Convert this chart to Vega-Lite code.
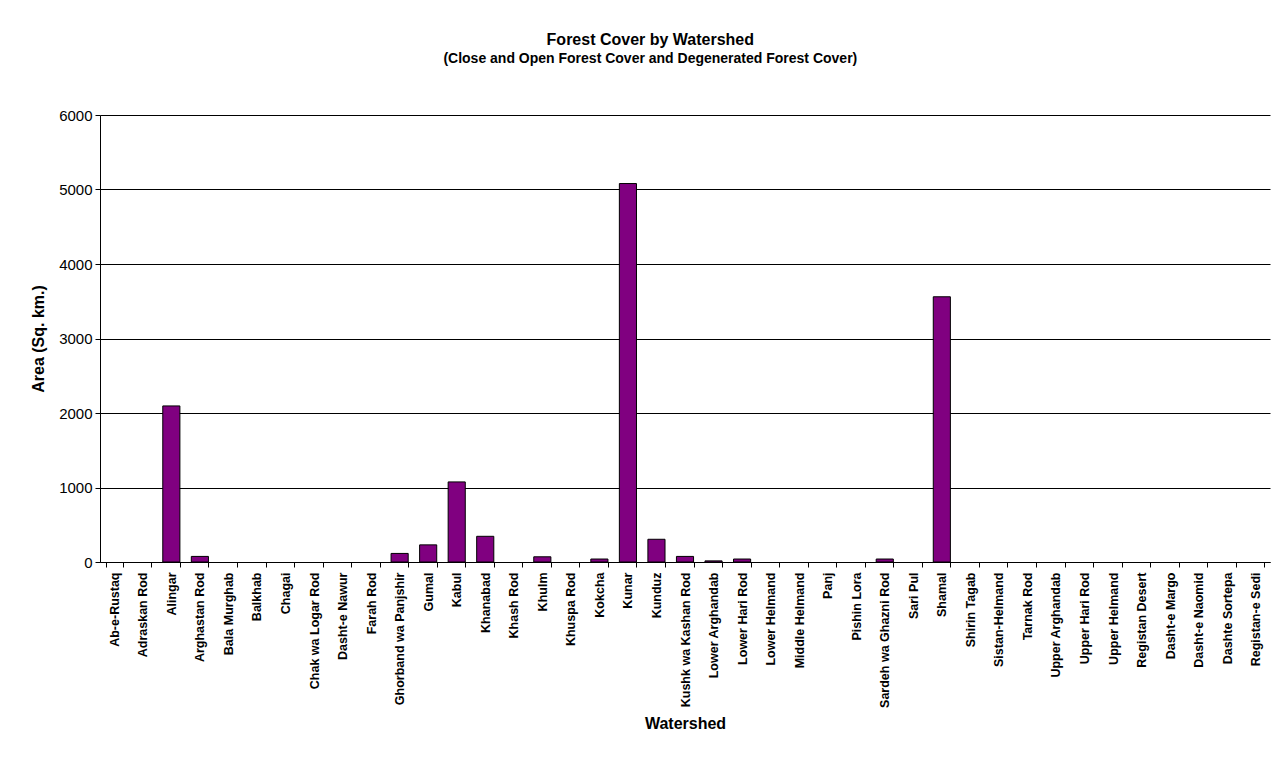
{
  "$schema": "https://vega.github.io/schema/vega-lite/v6.json",
  "autosize": {"type": "none"},
  "width": 1170,
  "height": 447,
  "padding": {"left": 100, "top": 115, "right": 17, "bottom": 199},
  "background": "white",
  "title": {
    "text": "Forest Cover by Watershed",
    "subtitle": "(Close and Open Forest Cover and Degenerated Forest Cover)",
    "anchor": "middle",
    "frame": "bounds",
    "font": "Liberation Sans",
    "fontSize": 16,
    "fontWeight": "bold",
    "color": "black",
    "subtitleFont": "Liberation Sans",
    "subtitleFontSize": 14,
    "subtitleFontWeight": "bold",
    "subtitleColor": "black",
    "subtitlePadding": 4,
    "offset": 42
  },
  "data": {
    "values": [
      {"watershed": "Ab-e-Rustaq", "area": 0},
      {"watershed": "Adraskan Rod", "area": 0},
      {"watershed": "Alingar", "area": 2095},
      {"watershed": "Arghastan Rod", "area": 75},
      {"watershed": "Bala Murghab", "area": 0},
      {"watershed": "Balkhab", "area": 0},
      {"watershed": "Chagai", "area": 0},
      {"watershed": "Chak wa Logar Rod", "area": 0},
      {"watershed": "Dasht-e Nawur", "area": 0},
      {"watershed": "Farah Rod", "area": 0},
      {"watershed": "Ghorband wa Panjshir", "area": 115},
      {"watershed": "Gumal", "area": 230},
      {"watershed": "Kabul", "area": 1075},
      {"watershed": "Khanabad", "area": 345},
      {"watershed": "Khash Rod", "area": 0},
      {"watershed": "Khulm", "area": 70},
      {"watershed": "Khuspa Rod", "area": 0},
      {"watershed": "Kokcha", "area": 40},
      {"watershed": "Kunar", "area": 5080},
      {"watershed": "Kunduz", "area": 305},
      {"watershed": "Kushk wa Kashan Rod", "area": 75},
      {"watershed": "Lower Arghandab", "area": 15},
      {"watershed": "Lower Hari Rod", "area": 40},
      {"watershed": "Lower Helmand", "area": 0},
      {"watershed": "Middle Helmand", "area": 0},
      {"watershed": "Panj", "area": 0},
      {"watershed": "Pishin Lora", "area": 0},
      {"watershed": "Sardeh wa Ghazni Rod", "area": 40},
      {"watershed": "Sari Pul", "area": 0},
      {"watershed": "Shamal", "area": 3560},
      {"watershed": "Shirin Tagab", "area": 0},
      {"watershed": "Sistan-Helmand", "area": 0},
      {"watershed": "Tarnak Rod", "area": 0},
      {"watershed": "Upper  Arghandab", "area": 0},
      {"watershed": "Upper Hari Rod", "area": 0},
      {"watershed": "Upper Helmand", "area": 0},
      {"watershed": "Registan Desert", "area": 0},
      {"watershed": "Dasht-e Margo", "area": 0},
      {"watershed": "Dasht-e Naomid", "area": 0},
      {"watershed": "Dashte Sortepa", "area": 0},
      {"watershed": "Registan-e Sedi", "area": 0}
    ]
  },
  "mark": {"type": "bar", "color": "#800080", "stroke": "black", "strokeWidth": 1},
  "encoding": {
    "x": {
      "field": "watershed",
      "type": "nominal",
      "sort": null,
      "title": "Watershed",
      "scale": {"paddingInner": 0.4, "paddingOuter": 0.2},
      "axis": {
        "labelAngle": -90,
        "labelFont": "Liberation Sans",
        "labelFontSize": 12.5,
        "labelFontWeight": "bold",
        "labelColor": "black",
        "labelPadding": 5,
        "tickBand": "extent",
        "tickColor": "black",
        "tickSize": 5,
        "domainColor": "black",
        "titleFont": "Liberation Sans",
        "titleFontSize": 16,
        "titleFontWeight": "bold",
        "titleColor": "black",
        "titlePadding": 8,
        "labelOverlap": false
      }
    },
    "y": {
      "field": "area",
      "type": "quantitative",
      "title": "Area (Sq. km.)",
      "scale": {"domain": [0, 6000], "nice": false},
      "axis": {
        "values": [0, 1000, 2000, 3000, 4000, 5000, 6000],
        "format": "d",
        "grid": true,
        "gridColor": "black",
        "gridOpacity": 1,
        "gridWidth": 1,
        "domainColor": "black",
        "tickColor": "black",
        "tickSize": 5,
        "labelFont": "Liberation Sans",
        "labelFontSize": 15,
        "labelColor": "black",
        "labelPadding": 3,
        "titleFont": "Liberation Sans",
        "titleFontSize": 16,
        "titleFontWeight": "bold",
        "titleColor": "black",
        "titlePadding": 12
      }
    },
    "strokeOpacity": {
      "condition": {"test": "datum.area == 0", "value": 0},
      "value": 1
    }
  },
  "config": {"view": {"stroke": null}}
}
